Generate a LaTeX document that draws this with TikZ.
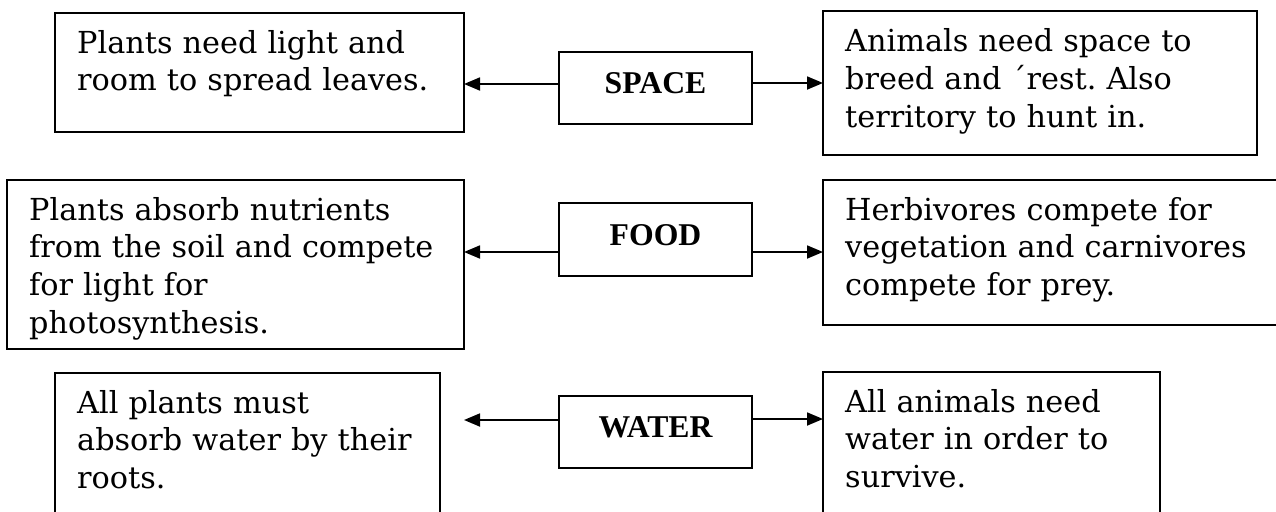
\documentclass[tikz,border=0pt]{standalone}
\usepackage{fontspec}
\usetikzlibrary{arrows.meta}
\newfontfamily\bodyfont{DejaVu Serif}
\newfontfamily\labelfont{Liberation Serif}
\frenchspacing
\tikzset{
  boxline/.style={draw=black, line width=1.8pt},
  plainbox/.style={boxline, inner sep=0pt, outer sep=0pt},
  bodytext/.style={anchor=base west, inner sep=0pt, align=left, text width=480pt,
    font=\bodyfont\fontsize{30.3}{37.7}\selectfont},
  labeltext/.style={anchor=base, inner sep=0pt, font=\labelfont\bfseries\fontsize{31.7}{36}\selectfont},
  arr/.style={line width=1.8pt, -{Triangle[length=16pt,width=13pt]}},
}
\begin{document}
\begin{tikzpicture}[x=1pt,y=-1pt]
\useasboundingbox (0,0) rectangle (1276,511);
\clip (0,0) rectangle (1276,511);
\fill[white] (0,0) rectangle (1276,511);
% boxes
\node[plainbox, minimum width=409pt, minimum height=119pt] (L1) at (259.5,72.5) {};
\node[plainbox, minimum width=457pt, minimum height=169pt] (L2) at (235.5,264.5) {};
\node[plainbox, minimum width=385pt, minimum height=160pt] (L3) at (247.5,453) {};
\node[plainbox, minimum width=193pt, minimum height=72pt] (C1) at (655.5,88) {};
\node[plainbox, minimum width=193pt, minimum height=73pt] (C2) at (655.5,239.5) {};
\node[plainbox, minimum width=193pt, minimum height=72pt] (C3) at (655.5,432) {};
\node[plainbox, minimum width=434pt, minimum height=144pt] (R1) at (1040,83) {};
\node[plainbox, minimum width=467pt, minimum height=145pt] (R2) at (1056.5,252.5) {};
\node[plainbox, minimum width=337pt, minimum height=160pt] (R3) at (991.5,452) {};
% texts
\node[bodytext] (t1) at (77,53) {Plants need light and\\room to spread leaves.};
\node[bodytext] (t2) at (29,220) {Plants absorb nutrients\\from the soil and compete\\for light for\\photosynthesis.};
\node[bodytext] (t3) at (77,413) {All plants must\\absorb water by their\\roots.};
\node[bodytext] (t4) at (845,52) {Animals need space to\\breed and ´rest. Also\\territory to hunt in.};
\node[bodytext] (t5) at (845,220) {Herbivores compete for\\vegetation and carnivores\\compete for prey.};
\node[bodytext] (t6) at (845,412) {All animals need\\water in order to\\survive.};
\node[labeltext] (s1) at (655.5,93) {SPACE};
\node[labeltext] (s2) at (655.5,245) {FOOD};
\node[labeltext] (s3) at (655.5,437) {WATER};
% connectors
\coordinate (a1) at ([yshift=4pt]C1.west);
\coordinate (b1) at ([yshift=5pt]C1.east);
\draw[arr] (a1) -- (L1.east |- a1);
\draw[arr] (b1) -- (R1.west |- b1);
\coordinate (a2) at ([yshift=-12.5pt]C2.west);
\coordinate (b2) at ([yshift=-12.5pt]C2.east);
\draw[arr] (a2) -- (L2.east |- a2);
\draw[arr] (b2) -- (R2.west |- b2);
\coordinate (a3) at ([yshift=12pt]C3.west);
\coordinate (b3) at ([yshift=13pt]C3.east);
\coordinate (e3) at (464,420);
\draw[arr] (a3) -- (e3);
\draw[arr] (b3) -- (R3.west |- b3);
\end{tikzpicture}
\end{document}
